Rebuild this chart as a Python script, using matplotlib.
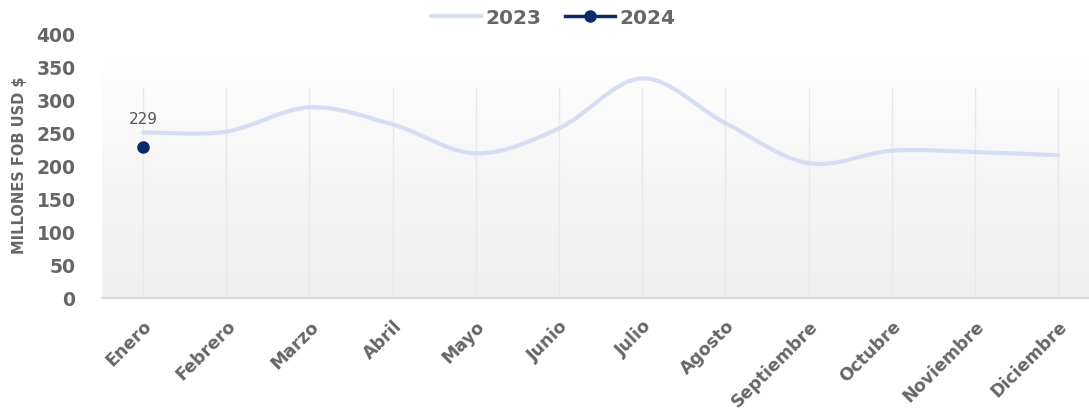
import numpy as np
import matplotlib
matplotlib.use("Agg")
import matplotlib.pyplot as plt
from matplotlib.path import Path
from matplotlib.patches import PathPatch
from matplotlib.lines import Line2D
from matplotlib.colors import LinearSegmentedColormap

months = ["Enero", "Febrero", "Marzo", "Abril", "Mayo", "Junio", "Julio",
          "Agosto", "Septiembre", "Octubre", "Noviembre", "Diciembre"]
values_2023 = [252, 253, 290, 264, 220, 258, 334, 266, 205, 224, 222, 217]
values_2024 = [229]
yticks = [0, 50, 100, 150, 200, 250, 300, 350, 400]

GREY = "#666666"
C23 = "#d5def3"
C24 = "#0b2a6a"
FONT = "DejaVu Sans"

fig = plt.figure(figsize=(10.89, 4.16), dpi=100)
ax = fig.add_axes([102/1089, 1-298/416, 1-102/1089, (298-35)/416])

step = 83.2
ax.set_xlim(-41/step, (1089-143)/step)
ax.set_ylim(0, 400)

# gradient background: white at top to light grey at bottom
grad = np.linspace(1, 0, 256).reshape(-1, 1)
cmap = LinearSegmentedColormap.from_list("bg", ["#f0f0f0", "#f5f5f5", "#ffffff"])
ax.imshow(grad, extent=[0, 1, 0, 0.9], transform=ax.transAxes,
          aspect="auto", cmap=cmap, zorder=0)

for i in range(len(months)):
    ax.axvline(i, color="#e9e9e9", lw=1, zorder=1, ymax=0.8)

# smooth spline path via Bezier (Catmull-Rom)
x = np.arange(len(values_2023), dtype=float)
y = np.array(values_2023, dtype=float)
verts = [(x[0], y[0])]
codes = [Path.MOVETO]
t = 1/6
for i in range(len(x)-1):
    p0 = (x[i-1], y[i-1]) if i > 0 else (x[i], y[i])
    p1 = (x[i], y[i]); p2 = (x[i+1], y[i+1])
    p3 = (x[i+2], y[i+2]) if i+2 < len(x) else p2
    c1 = (p1[0] + (p2[0]-p0[0])*t, p1[1] + (p2[1]-p0[1])*t)
    c2 = (p2[0] - (p3[0]-p1[0])*t, p2[1] - (p3[1]-p1[1])*t)
    verts += [c1, c2, p2]
    codes += [Path.CURVE4]*3
ax.add_patch(PathPatch(Path(verts, codes), fill=False, edgecolor=C23, lw=3,
                       zorder=3, capstyle="round"))

ax.plot(range(len(values_2024)), values_2024, color=C24, lw=2.5, marker="o",
        ms=8, zorder=4)
for i, v in enumerate(values_2024):
    ax.annotate(str(v), (i, v), xytext=(0, 15), textcoords="offset points",
                ha="center", va="bottom", fontsize=11, color="#555555",
                family=FONT)

for s in ["top", "right", "left"]:
    ax.spines[s].set_visible(False)
ax.spines["bottom"].set_color("#d8d8d8")
ax.spines["bottom"].set_linewidth(1.5)

ax.set_yticks(yticks)
ax.set_yticklabels([str(v) for v in yticks], fontsize=13.5, fontweight="bold",
                   color=GREY, family=FONT)
ax.set_xticks(range(len(months)))
ax.set_xticklabels(months, rotation=45, ha="right", rotation_mode="anchor",
                   fontsize=12.5, fontweight="bold", color=GREY, family=FONT)
ax.tick_params(axis="both", length=0)
ax.tick_params(axis="y", pad=19)
ax.tick_params(axis="x", pad=14)

fig.text(20/1089, 1-165/416, "MILLONES FOB USD $", rotation=90, ha="center",
         va="center", fontsize=10.5, fontweight="bold", color=GREY, family=FONT)

handles = [Line2D([], [], color=C23, lw=3),
           Line2D([], [], color=C24, lw=2.5, marker="o", ms=8)]
fig.legend(handles, ["2023", "2024"], loc="center", bbox_to_anchor=(553/1089, 1-18/416),
           ncol=2, frameon=False, handlelength=2.5, handletextpad=0.2,
           columnspacing=1.2, prop={"family": FONT, "weight": "bold", "size": 14.5},
           labelcolor=GREY)

fig.savefig("out.png", dpi=100)
